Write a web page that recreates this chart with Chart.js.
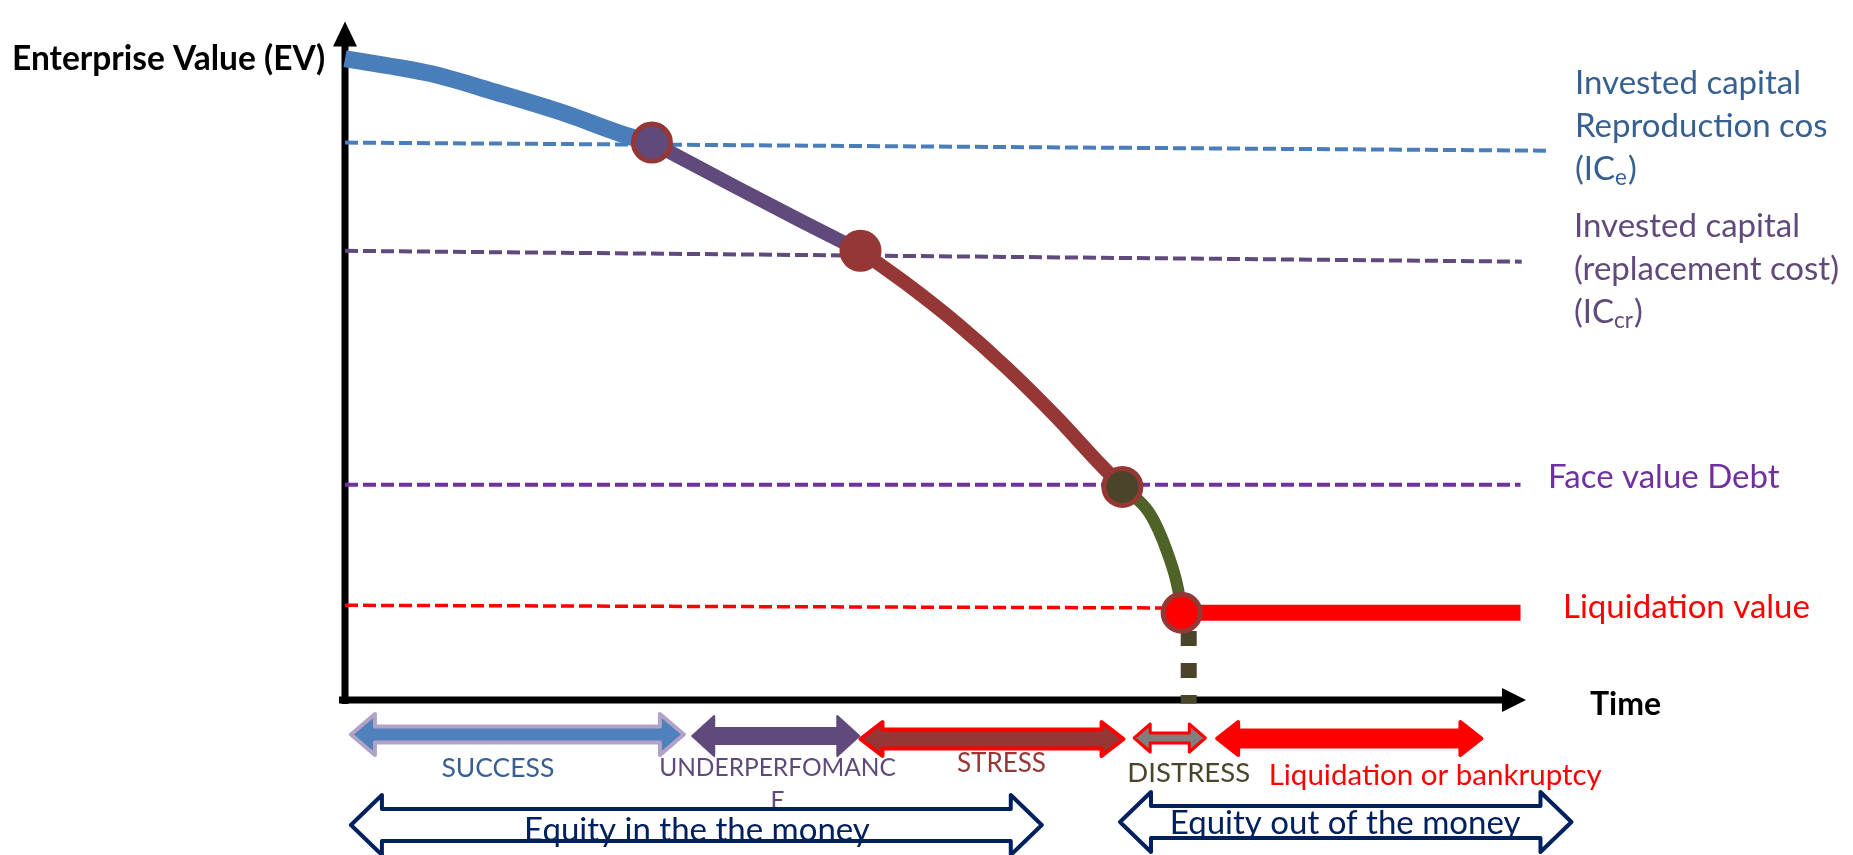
<!DOCTYPE html>
<html>
<head>
<meta charset="utf-8">
<script src="https://cdn.jsdelivr.net/npm/chart.js@4.4.1/dist/chart.umd.min.js"></script>
<style>
  html, body { margin: 0; padding: 0; background: #ffffff; overflow: hidden; }
  canvas { display: block; }
</style>
</head>
<body>
<canvas id="ev" width="1853" height="855"></canvas>
<script>
// ---- Enterprise value path over time (x: time 0-100, y: EV 0-100) ----
const evSuccess          = [[0, 94.8], [7.2, 92.6], [12.8, 89.8], [18.4, 86.8], [24, 83.3], [25.9, 82.4]];
const evUnderperformance = [[25.9, 82.4], [32.8, 76], [38.5, 70.8], [43.5, 66.4]];
const evStress           = [[43.5, 66.4], [47.4, 61.5], [51.6, 55.7], [55.9, 49], [60.1, 41.7], [63.7, 34.9], [65.6, 31.5]];
const evDistress         = [[65.6, 31.5], [67.9, 27.6], [69.4, 21.8], [70.3, 16.4], [70.6, 12.9]];
const evLiquidation      = [[70.6, 12.9], [99.2, 12.9]];
const transitionPoints   = [[25.9, 82.4], [43.5, 66.4], [65.6, 31.5], [70.6, 12.9]];

// ---- Value thresholds ----
const icReproductionCost = [[0, 82.4], [101.6, 81.2]];
const icReplacementCost  = [[0, 66.4], [99.3, 64.8]];
const debtFaceValue      = [[0, 31.8], [99.2, 31.8]];
const liquidationLevel   = [[0, 14], [70.6, 13.6]];
const bankruptcyTime     = [[71.2, 10.2], [71.2, -0.5]];

// ---- Phases along the time axis ----
const phaseNames  = ['SUCCESS', 'UNDERPERFOMANCE', 'STRESS', 'DISTRESS', 'Liquidation or bankruptcy'];
const phaseStart  = [0.5, 29.3, 43.5, 66.6, 73.6];
const phaseEnd    = [28.6, 43.4, 65.7, 72.6, 95.9];
const equityNames = ['Equity in the the money', 'Equity out of the money'];
const equityStart = [0.5, 65.4];
const equityEnd   = [58.8, 103.5];

const toXY = arr => arr.map(([x, y]) => ({ x, y }));
const FONT = 'Lato, "Open Sans", sans-serif';

// styles for the phase arrows (y offsets are below the time axis, in px)
const phaseStyle = [
  { fill: '#4F81BD', stroke: '#B3A2C7', lw: 4, dy: 34.5, hh: 20.5, sh: 8,  hl: 24, color: '#376092', size: 26.5, tx: 12.9, ty: 68 },
  { fill: '#604A7B', stroke: '#604A7B', lw: 2, dy: 36,   hh: 20,   sh: 8,  hl: 22, color: '#604A7B', size: 24.5, tx: 36.5, ty: 68 },
  { fill: '#953735', stroke: '#FF0000', lw: 4, dy: 39,   hh: 17,   sh: 9.5, hl: 22, color: '#953735', size: 26, tx: 55.4, ty: 64 },
  { fill: '#7F7F7F', stroke: '#FF0000', lw: 3, dy: 38,   hh: 14,   sh: 5,  hl: 16, color: '#4A452A', size: 27.5, tx: 71.2, ty: 73 },
  { fill: '#FF0000', stroke: '#FF0000', lw: 4, dy: 38.5, hh: 16.5, sh: 8,  hl: 21, color: '#FF0000', size: 29.5, tx: 92.0, ty: 75 }
];
const equityStyle = [
  { dy: 125, tx: 29.7, ty: 130 },
  { dy: 122, tx: 84.4, ty: 123 }
];

function doubleArrow(ctx, x0, x1, yc, hh, sh, hl, fill, stroke, lw) {
  ctx.beginPath();
  ctx.moveTo(x0, yc);
  ctx.lineTo(x0 + hl, yc - hh);
  ctx.lineTo(x0 + hl, yc - sh);
  ctx.lineTo(x1 - hl, yc - sh);
  ctx.lineTo(x1 - hl, yc - hh);
  ctx.lineTo(x1, yc);
  ctx.lineTo(x1 - hl, yc + hh);
  ctx.lineTo(x1 - hl, yc + sh);
  ctx.lineTo(x0 + hl, yc + sh);
  ctx.lineTo(x0 + hl, yc + hh);
  ctx.closePath();
  ctx.fillStyle = fill;
  ctx.fill();
  ctx.lineJoin = 'round';
  ctx.lineWidth = lw;
  ctx.strokeStyle = stroke;
  ctx.stroke();
}

function text(ctx, str, x, y, size, color, opts = {}) {
  ctx.font = `${opts.bold ? 'bold ' : ''}${size}px ${FONT}`;
  ctx.fillStyle = color;
  ctx.textAlign = opts.align || 'left';
  ctx.textBaseline = 'middle';
  ctx.fillText(str, x, y);
  return ctx.measureText(str).width;
}

function subscriptLabel(ctx, pre, sub, post, x, y, size, color) {
  let w = text(ctx, pre, x, y, size, color);
  const w2 = text(ctx, sub, x + w, y + size * 0.28, size * 0.68, color);
  text(ctx, post, x + w + w2 + 1, y, size, color);
}

function wrapWord(name, maxChars) {
  if (name.includes(' ') || name.length <= maxChars) return [name];
  const out = [];
  for (let i = 0; i < name.length; i += maxChars) out.push(name.slice(i, i + maxChars));
  return out;
}

const axesPlugin = {
  id: 'evAxes',
  beforeDatasetsDraw(chart) {
    const { ctx, chartArea: a } = chart;
    const x0 = chart.scales.x.getPixelForValue(0);
    const y0 = chart.scales.y.getPixelForValue(0);
    ctx.save();
    ctx.fillStyle = '#000';
    // vertical (EV) axis
    ctx.fillRect(x0 - 3.5, a.top + 22, 7, y0 - a.top - 18);
    ctx.beginPath();
    ctx.moveTo(x0, a.top - 2);
    ctx.lineTo(x0 + 12, a.top + 23);
    ctx.lineTo(x0 - 12, a.top + 23);
    ctx.closePath();
    ctx.fill();
    // horizontal (time) axis
    ctx.fillRect(x0 - 6, y0 - 3.5, a.right - x0 - 20, 7);
    ctx.beginPath();
    ctx.moveTo(a.right - 4, y0);
    ctx.lineTo(a.right - 28, y0 - 12);
    ctx.lineTo(a.right - 28, y0 + 12);
    ctx.closePath();
    ctx.fill();
    ctx.restore();
  }
};

const labelsPlugin = {
  id: 'evLabels',
  afterDraw(chart) {
    const { ctx } = chart;
    const sx = chart.scales.x;
    const base = chart.scales.y.getPixelForValue(0);
    ctx.save();

    // axis titles
    text(ctx, 'Enterprise Value (EV)', 12, 59, 33.5, '#000', { bold: true });
    text(ctx, 'Time', 1590, 705, 32, '#000', { bold: true });

    // threshold labels
    text(ctx, 'Invested capital', 1575, 83, 33, '#376092');
    text(ctx, 'Reproduction cos', 1575, 126, 33, '#376092');
    subscriptLabel(ctx, '(IC', 'e', ')', 1575, 169, 33, '#376092');
    text(ctx, 'Invested capital', 1574, 226, 33, '#604A7B');
    text(ctx, '(replacement cost)', 1574, 269, 33, '#604A7B');
    subscriptLabel(ctx, '(IC', 'cr', ')', 1574, 312, 33, '#604A7B');
    text(ctx, 'Face value Debt', 1548, 477, 33, '#7030A0');
    text(ctx, 'Liquidation value', 1563, 607, 33, '#FF0000');

    // phase arrows
    phaseNames.forEach((name, i) => {
      const s = phaseStyle[i];
      doubleArrow(ctx, sx.getPixelForValue(phaseStart[i]), sx.getPixelForValue(phaseEnd[i]),
        base + s.dy, s.hh, s.sh, s.hl, s.fill, s.stroke, s.lw);
    });
    phaseNames.forEach((name, i) => {
      const s = phaseStyle[i];
      wrapWord(name, 14).forEach((line, k) => {
        text(ctx, line, sx.getPixelForValue(s.tx), base + s.ty + k * 33, s.size, s.color, { align: 'center' });
      });
    });

    // equity position arrows
    equityNames.forEach((name, i) => {
      const s = equityStyle[i];
      doubleArrow(ctx, sx.getPixelForValue(equityStart[i]), sx.getPixelForValue(equityEnd[i]),
        base + s.dy, 30, 16, 31, '#ffffff', '#002060', 4);
      text(ctx, name, sx.getPixelForValue(s.tx), base + s.ty, 33, '#002060', { align: 'center' });
    });
    ctx.restore();
  }
};

const curve = (data, color, width) => ({
  type: 'line', data: toXY(data), borderColor: color, borderWidth: width,
  pointRadius: 0, cubicInterpolationMode: 'monotone', fill: false, clip: false
});
const threshold = (data, color, width) => ({
  type: 'line', data: toXY(data), borderColor: color, borderWidth: width,
  borderDash: [13, 5], pointRadius: 0, tension: 0, fill: false, clip: false
});

new Chart(document.getElementById('ev'), {
  type: 'scatter',
  data: {
    datasets: [
      {
        type: 'scatter', data: toXY(transitionPoints), showLine: false,
        pointRadius: 18.5, pointHoverRadius: 18.5, borderWidth: 5,
        pointBackgroundColor: ['#604A7B', '#953735', '#4A452A', '#FF0000'],
        pointBorderColor: '#953735', clip: false
      },
      curve(evSuccess, '#4A7EBB', 17),
      curve(evUnderperformance, '#604A7B', 14),
      curve(evStress, '#953735', 14),
      curve(evDistress, '#4F6228', 12),
      curve(evLiquidation, '#FF0000', 16),
      { type: 'line', data: toXY(bankruptcyTime), borderColor: '#4A452A', borderWidth: 16,
        borderDash: [15, 17], pointRadius: 0, fill: false, clip: false },
      threshold(icReproductionCost, '#4A7EBB', 4),
      threshold(icReplacementCost, '#604A7B', 4),
      threshold(debtFaceValue, '#7030A0', 4),
      threshold(liquidationLevel, '#FF0000', 3.5)
    ]
  },
  options: {
    responsive: false,
    devicePixelRatio: 1,
    animation: false,
    events: [],
    layout: { padding: { left: 345, top: 12, right: 323, bottom: 155 } },
    scales: {
      x: { type: 'linear', min: 0, max: 100, display: false },
      y: { type: 'linear', min: 0, max: 100, display: false }
    },
    plugins: { legend: { display: false }, tooltip: { enabled: false }, title: { display: false } }
  },
  plugins: [axesPlugin, labelsPlugin]
});
</script>
</body>
</html>
